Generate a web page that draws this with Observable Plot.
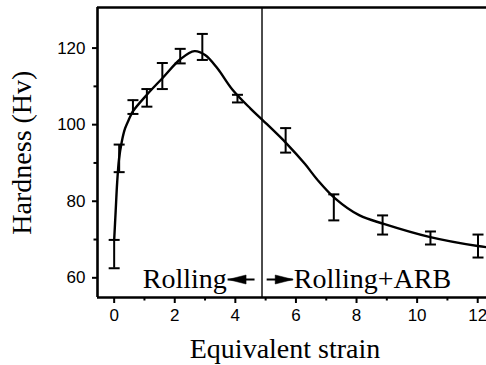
<!DOCTYPE html>
<html>
<head>
<meta charset="utf-8">
<script src="https://cdn.jsdelivr.net/npm/d3@7"></script>
<script src="https://cdn.jsdelivr.net/npm/@observablehq/plot@0.6"></script>
<style>
  html, body { margin: 0; padding: 0; background: #fff; }
  svg { display: block; }
</style>
</head>
<body>
<div id="chart"></div>
<script>
// Measured points (equivalent strain, hardness Hv, error)
const strain   = [0, 0.165, 0.62, 1.08, 1.59, 2.18, 2.91, 4.07, 5.66, 7.25, 8.86, 10.44, 12.01];
const hardness = [66.2, 91.2, 104.6, 107.0, 112.7, 117.9, 120.3, 106.8, 95.9, 78.4, 73.8, 70.4, 68.3];
const errors   = [3.7, 3.6, 1.8, 2.3, 3.4, 1.9, 3.4, 1.0, 3.2, 3.4, 2.5, 1.7, 3.0];

// Fitted curve
const fitX = [0, 0.05, 0.1, 0.16, 0.25, 0.36, 0.5, 0.62, 1.1, 1.6, 2.2, 2.65, 3.0, 3.4, 3.9, 4.5, 4.9, 5.7, 6.3, 6.7, 7.3, 8.1, 8.9, 10.4, 12.0, 12.3];
const fitY = [69.8, 77.5, 85.0, 91.0, 95.5, 99.0, 101.6, 103.5, 108.0, 112.2, 117.2, 119.2, 118.2, 114.8, 109.2, 104.2, 101.2, 95.0, 89.7, 85.7, 80.7, 76.3, 74.1, 70.7, 68.3, 68.0];

// Axis ticks
const xTicks = [0, 2, 4, 6, 8, 10, 12];
const xMinor = [1, 3, 5, 7, 9, 11];
const yTicks = [60, 80, 100, 120];
const yMinor = [70, 90, 110];
const xDomain = [-0.55, 12.29];
const yDomain = [54.86, 130.6];

// Annotations
const dividerX = [4.88];
const leftLabel = {t: "Rolling", x: 3.72, y: 59.56};
const rightLabel = {t: "Rolling+ARB", x: 5.93, y: 59.56};
const arrowTail = [4.65, 5.05];
const arrowTip  = [3.76, 5.91];
const arrowY    = [59.56, 59.56];
const arrowDir  = [0, 180];
const yTitle = {t: "Hardness (Hv)", x: -3.04, y: 92.7};
const xTitle = "Equivalent strain";

const points = strain.map((x, i) => ({x, y: hardness[i], e: errors[i]}));
const fit = fitX.map((x, i) => ({x, y: fitY[i]}));
const arrows = arrowTail.map((t, i) => ({tail: t, tip: arrowTip[i], y: arrowY[i], rot: arrowDir[i]}));

const capSymbol = {draw(ctx) { ctx.moveTo(-5.5, 0); ctx.lineTo(5.5, 0); }};
const headSymbol = {draw(ctx) { ctx.moveTo(0, 0); ctx.lineTo(18, -4.5); ctx.lineTo(18, 4.5); ctx.closePath(); }};

const serif = "'Liberation Serif', 'Times New Roman', serif";
const sans = "'Liberation Sans', Arial, sans-serif";
const big = 28;

const chart = Plot.plot({
  width: 486,
  height: 365,
  marginLeft: 97,
  marginRight: 0,
  marginTop: 7,
  marginBottom: 68,
  style: {fontFamily: sans, background: "#fff", color: "#000"},
  x: {domain: xDomain},
  y: {domain: yDomain},
  marks: [
    Plot.axisX({ticks: xTicks, tickSize: 6, tickPadding: 5, fontSize: 17, fontFamily: sans, strokeWidth: 2, label: null}),
    Plot.axisX({ticks: xMinor, tickSize: 3.5, tickFormat: () => "", strokeWidth: 2, label: null}),
    Plot.axisY({ticks: yTicks, tickSize: 5, tickPadding: 7, fontSize: 17, fontFamily: sans, strokeWidth: 2, label: null}),
    Plot.axisY({ticks: yMinor, tickSize: 3.5, tickFormat: () => "", strokeWidth: 2, label: null}),
    Plot.ruleX(dividerX, {stroke: "#000", strokeWidth: 1.4}),
    Plot.ruleX([xDomain[0]], {stroke: "#000", strokeWidth: 2.6}),
    Plot.ruleY(yDomain, {stroke: "#000", strokeWidth: 2.6}),
    Plot.ruleX(points, {x: "x", y1: d => d.y - d.e, y2: d => d.y + d.e, stroke: "#000", strokeWidth: 2}),
    Plot.dot(points, {x: "x", y: d => d.y - d.e, symbol: capSymbol, stroke: "#000", strokeWidth: 2, fill: "none"}),
    Plot.dot(points, {x: "x", y: d => d.y + d.e, symbol: capSymbol, stroke: "#000", strokeWidth: 2, fill: "none"}),
    Plot.line(fit, {x: "x", y: "y", curve: "catmull-rom", stroke: "#000", strokeWidth: 2.4}),
    Plot.ruleY(arrows, {y: "y", x1: "tail", x2: "tip", stroke: "#000", strokeWidth: 2}),
    Plot.dot(arrows, {x: "tip", y: "y", rotate: "rot", symbol: headSymbol, fill: "#000", stroke: "#000", strokeWidth: 0.5}),
    Plot.text([leftLabel], {x: "x", y: "y", text: "t", textAnchor: "end", fontSize: big, fontFamily: serif, fill: "#000"}),
    Plot.text([rightLabel], {x: "x", y: "y", text: "t", textAnchor: "start", fontSize: big, fontFamily: serif, fill: "#000"}),
    Plot.text([xTitle], {frameAnchor: "bottom", lineAnchor: "middle", dx: -7, dy: 52, fontSize: big, fontFamily: serif, fill: "#000"}),
    Plot.text([yTitle], {x: "x", y: "y", text: "t", rotate: -90, fontSize: big, fontFamily: serif, fill: "#000"})
  ]
});
document.getElementById("chart").appendChild(chart);
</script>
</body>
</html>
